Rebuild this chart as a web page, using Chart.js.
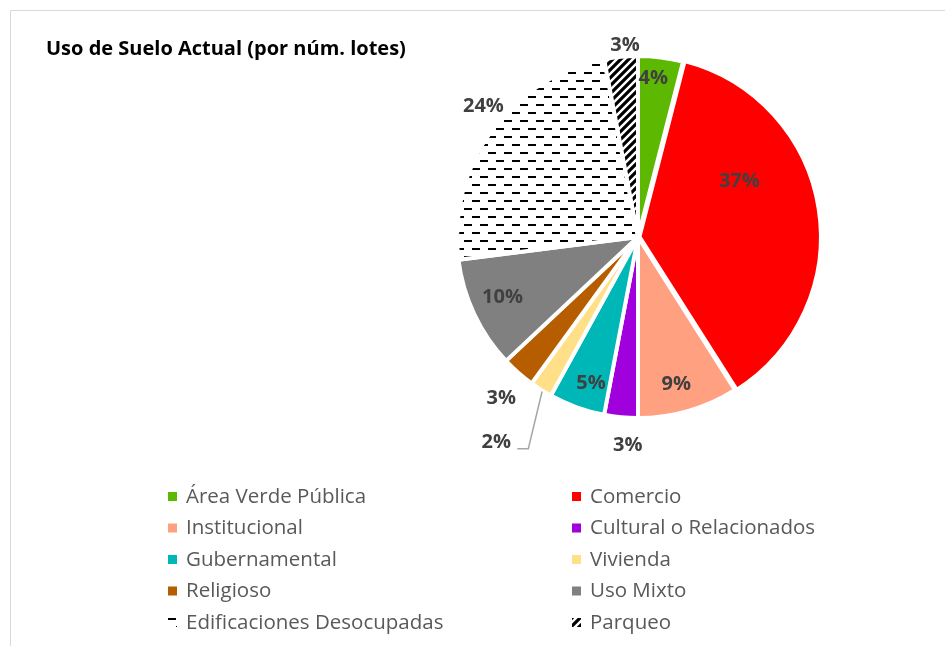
<!DOCTYPE html>
<html>
<head>
<meta charset="utf-8">
<script src="https://cdn.jsdelivr.net/npm/chart.js@4.4.0/dist/chart.umd.min.js"></script>
<style>
html,body{margin:0;padding:0;background:#fff;}
#wrap{width:945px;height:646px;position:relative;}
</style>
</head>
<body>
<div id="wrap"><canvas id="c" width="945" height="646"></canvas></div>
<script>
// ---- data ----
const chartTitle = 'Uso de Suelo Actual (por núm. lotes)';
const categories = ['Área Verde Pública','Comercio','Institucional','Cultural o Relacionados','Gubernamental','Vivienda','Religioso','Uso Mixto','Edificaciones Desocupadas','Parqueo'];
const values = [4,37,9,3,5,2,3,10,24,3];
const percentLabels = ['4%','37%','9%','3%','5%','2%','3%','10%','24%','3%'];

// ---- styling ----
const FONT = '"Open Sans", Lato, sans-serif';
function dashPattern(){
  const c=document.createElement('canvas');c.width=16;c.height=16;
  const x=c.getContext('2d');x.fillStyle='#fff';x.fillRect(0,0,16,16);
  x.fillStyle='#000';x.fillRect(0,0,8,2);x.fillRect(8,8,8,2);
  return x.createPattern(c,'repeat');
}
function stripePattern(){
  const c=document.createElement('canvas');c.width=8;c.height=8;
  const x=c.getContext('2d');x.fillStyle='#fff';x.fillRect(0,0,8,8);
  x.strokeStyle='#000';x.lineWidth=3.2;x.lineCap='square';
  x.beginPath();x.moveTo(-2,10);x.lineTo(10,-2);x.moveTo(-6,6);x.lineTo(6,-6);x.moveTo(2,14);x.lineTo(14,2);x.stroke();
  return x.createPattern(c,'repeat');
}
const sliceColors = ['#5CB800','#FF0000','#FFA080','#A000DC','#00B7B7','#FFDF88','#B65D00','#808080',dashPattern(),stripePattern()];
const sliceOffsets = [0,6,0,0,0,0,0,0,0,0];
// label placement: fraction along slice angle, fraction of radius
const labelAngleFrac = [0.38,0.35,0.55,0.26,0.39,0.8,0.39,0.53,0.55,0.64];
const labelRadiusFrac = [0.88,0.64,0.84,1.15,0.85,1.38,1.17,0.82,1.12,1.06];

const decorPlugin = {
  id:'decor',
  beforeDraw(chart){
    const ctx=chart.ctx;ctx.save();
    ctx.strokeStyle='#D9D9D9';ctx.lineWidth=1;
    ctx.beginPath();ctx.moveTo(10.5,646);ctx.lineTo(10.5,10.5);ctx.lineTo(945,10.5);ctx.stroke();
    ctx.fillStyle='#000';ctx.font='bold 20px '+FONT;ctx.textBaseline='middle';ctx.textAlign='left';
    ctx.fillText(chartTitle,46,49);
    ctx.restore();
  },
  afterDatasetsDraw(chart){
    const ctx=chart.ctx;const meta=chart.getDatasetMeta(0);
    ctx.save();
    ctx.font='bold 20px '+FONT;ctx.fillStyle='#404040';ctx.textAlign='center';ctx.textBaseline='middle';
    meta.data.forEach((arc,i)=>{
      const p=arc.getProps(['x','y','startAngle','endAngle','outerRadius'],true);
      const a=p.startAngle+labelAngleFrac[i]*(p.endAngle-p.startAngle);
      const r=labelRadiusFrac[i]*p.outerRadius;
      const lx=p.x+Math.cos(a)*r, ly=p.y+Math.sin(a)*r;
      if(labelRadiusFrac[i]>1.3){
        const ma=(p.startAngle+p.endAngle)/2;
        ctx.save();ctx.strokeStyle='#A6A6A6';ctx.lineWidth=1.5;ctx.beginPath();
        ctx.moveTo(p.x+Math.cos(ma)*(p.outerRadius-2),p.y+Math.sin(ma)*(p.outerRadius+2));
        ctx.lineTo(lx+32,ly+6);ctx.lineTo(lx+21,ly+6);ctx.stroke();ctx.restore();
      }
      ctx.fillText(percentLabels[i],lx,ly);
    });
    // legend
    ctx.font='20.5px '+FONT;ctx.textAlign='left';
    categories.forEach((name,i)=>{
      const col=i%2,row=Math.floor(i/2);
      const sx=col===0?168:572, tx=col===0?186:590, cy=497+row*31.5;
      ctx.save();ctx.translate(sx,cy-5);
      ctx.fillStyle=sliceColors[i];ctx.fillRect(0,0,9,9);ctx.restore();
      ctx.fillStyle='#595959';ctx.fillText(name,tx,cy);
    });
    ctx.restore();
  }
};

new Chart(document.getElementById('c'),{
  type:'pie',
  data:{labels:categories,datasets:[{data:values,backgroundColor:sliceColors,borderColor:'#FFFFFF',borderWidth:4,offset:sliceOffsets}]},
  options:{
    responsive:false,animation:false,
    layout:{padding:{left:452,right:121,top:51,bottom:223}},
    plugins:{legend:{display:false},tooltip:{enabled:false},title:{display:false}}
  },
  plugins:[decorPlugin]
});
</script>
</body>
</html>
